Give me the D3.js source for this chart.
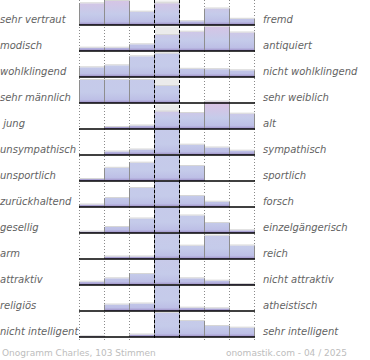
<!DOCTYPE html>
<html>
<head>
<meta charset="utf-8">
<script src="https://cdn.jsdelivr.net/npm/d3@7"></script>
<style>
body { margin: 0; background: #fff; }
svg { display: block; }
</style>
</head>
<body>
<svg width="370" height="360"></svg>
<script>

// Eigenschaftspaare, links und rechts
var links = ["sehr vertraut", "modisch", "wohlklingend", "sehr männlich", " jung",
  "unsympathisch", "unsportlich", "zurückhaltend", "gesellig", "arm",
  "attraktiv", "religiös", "nicht intelligent"];
var rechts = ["fremd", "antiquiert", "nicht wohlklingend", "sehr weiblich", "alt",
  "sympathisch", "sportlich", "forsch", "einzelgängerisch", "reich",
  "nicht attraktiv", "atheistisch", "sehr intelligent"];

var stufen = [1, 2, 3, 4, 5, 6, 7];

// Anteil der Stimmen je Stufe
var werte = [
  [21.7, 24.0, 13.3, 21.7, 3.8, 16.5, 6.2],
  [3.3, 3.3, 6.7, 16.0, 19.3, 24.5, 18.5],
  [9.7, 11.7, 20.7, 23.5, 8.2, 7.8, 6.7],
  [23.0, 23.0, 23.0, 17.0, 0, 0, 0],
  [0, 2.0, 3.5, 17.5, 16.0, 27.5, 15.3],
  [0, 3.5, 5.5, 25.0, 10.3, 7.5, 4.3],
  [2.0, 13.2, 18.3, 26.0, 15.0, 0, 0],
  [2.5, 9.0, 19.0, 26.0, 11.0, 5.3, 0],
  [1.5, 6.0, 14.5, 26.0, 17.5, 10.0, 2.7],
  [0, 2.5, 2.5, 26.0, 13.3, 23.3, 13.5],
  [3.3, 6.7, 11.0, 26.0, 6.7, 4.3, 1.0],
  [0, 6.5, 7.5, 26.0, 3.3, 2.7, 0],
  [0.7, 0, 2.5, 24.3, 16.0, 11.0, 9.3]
];

// wie stark die Balken oben ins Rosa gehen (weibliche Stimmen)
var weiblich = [0.75, 0.7, 0.05, 0.05, 0.85, 0.05, 0.05, 0.05, 0.05, 0.1, 0.1, 0.05, 0.1];

var titel = "Onogramm Charles, 103 Stimmen";
var quelle = "onomastik.com - 04 / 2025";

var svg = d3.select("svg");

var x = d3.scaleBand().domain(stufen).range([80, 255]);
var y = d3.scaleBand().domain(d3.range(links.length)).range([-1, 337]);
var h = d3.scaleLinear().domain([0, 26]).range([0, 26]);

function basis(i) { return y(i) + y.bandwidth(); }

// Verlauf je Zeile
var defs = svg.append("defs");
var blau = "#c5cbea";
links.forEach(function(d, i) {
  var g = defs.append("linearGradient")
    .attr("id", "g" + i)
    .attr("gradientUnits", "userSpaceOnUse")
    .attr("x1", 0).attr("x2", 0)
    .attr("y1", basis(i) - 27).attr("y2", basis(i));
  g.append("stop").attr("offset", 0).attr("stop-color", d3.interpolateRgb(blau, "#e0c0e2")(weiblich[i]));
  g.append("stop").attr("offset", 0.6).attr("stop-color", blau);
  g.append("stop").attr("offset", 0.88).attr("stop-color", "#bdbfe6");
  g.append("stop").attr("offset", 1).attr("stop-color", "#9a88c2");
});

// gepunktete Rasterlinien
var grenzen = stufen.map(function(s) { return x(s); }).concat([x.range()[1]]);
svg.append("g").selectAll("line")
  .data(grenzen.filter(function(d, k) { return k != 3 && k != 4; }))
  .join("line")
    .attr("x1", function(d) { return d - 0.5; })
    .attr("x2", function(d) { return d - 0.5; })
    .attr("y1", 0).attr("y2", 340)
    .attr("stroke", "#8a8a8a")
    .attr("stroke-dasharray", "1,2");

// grauer Hintergrund der Mittelspalte
svg.append("g").selectAll("rect")
  .data(d3.range(links.length))
  .join("rect")
    .attr("x", x(4))
    .attr("y", function(i) { return basis(i) - 24.5; })
    .attr("width", x.bandwidth())
    .attr("height", 24.5)
    .attr("fill", "#ebebeb");

// Balken
var zeilen = svg.append("g").selectAll("g")
  .data(werte)
  .join("g");

var balken = zeilen.selectAll("g")
  .data(function(r, i) { return r.map(function(v, k) { return {zeile: i, stufe: stufen[k], wert: v}; }); })
  .join("g")
    .filter(function(d) { return d.wert > 0; });

balken.append("rect")
  .attr("x", function(d) { return x(d.stufe); })
  .attr("y", function(d) { return basis(d.zeile) - h(d.wert); })
  .attr("width", x.bandwidth())
  .attr("height", function(d) { return h(d.wert); })
  .attr("fill", function(d) { return "url(#g" + d.zeile + ")"; });

// helle Kante oben
balken.append("line")
  .attr("x1", function(d) { return x(d.stufe); })
  .attr("x2", function(d) { return x(d.stufe) + x.bandwidth(); })
  .attr("y1", function(d) { return basis(d.zeile) - h(d.wert) - 0.5; })
  .attr("y2", function(d) { return basis(d.zeile) - h(d.wert) - 0.5; })
  .attr("stroke", "#d6d6d6");

// graue Seitenkanten
balken.append("path")
  .attr("d", function(d) {
    var l = x(d.stufe) - 0.5, r = x(d.stufe) + x.bandwidth() - 0.5,
        t = basis(d.zeile) - h(d.wert), b = basis(d.zeile);
    return "M" + l + "," + t + "V" + b + "M" + r + "," + t + "V" + b;
  })
  .attr("stroke", "#8e8e8e")
  .attr("fill", "none");

// Grundlinien
svg.append("g").selectAll("line")
  .data(d3.range(links.length))
  .join("line")
    .attr("x1", x.range()[0] - 1)
    .attr("x2", x.range()[1])
    .attr("y1", function(i) { return basis(i); })
    .attr("y2", function(i) { return basis(i); })
    .attr("stroke", "#000")
    .attr("stroke-width", 1.6);

// gestrichelte Mittellinien
svg.append("g").selectAll("line")
  .data([x(4), x(5)])
  .join("line")
    .attr("x1", function(d) { return d - 0.5; })
    .attr("x2", function(d) { return d - 0.5; })
    .attr("y1", 0).attr("y2", 340)
    .attr("stroke", "#000")
    .attr("stroke-dasharray", "3,2");

// Beschriftung
var schrift = svg.append("g")
  .attr("font-family", "'DejaVu Sans', Verdana, sans-serif")
  .attr("font-size", 10)
  .attr("font-style", "italic")
  .attr("fill", "#636363");

schrift.selectAll(".l")
  .data(links)
  .join("text")
    .attr("class", "l")
    .attr("xml:space", "preserve")
    .attr("x", 0)
    .attr("y", function(d, i) { return basis(i) - 2; })
    .text(function(d) { return d.replace(/^ /, "\u00a0"); });

schrift.selectAll(".r")
  .data(rechts)
  .join("text")
    .attr("class", "r")
    .attr("x", 263)
    .attr("y", function(d, i) { return basis(i) - 2; })
    .text(function(d) { return d; });

var fuss = svg.append("g")
  .attr("font-family", "'DejaVu Sans', Verdana, sans-serif")
  .attr("font-size", 9)
  .attr("fill", "#bdbdbd");

fuss.append("text").attr("x", 2).attr("y", 356).text(titel);
fuss.append("text").attr("x", 347).attr("y", 356).attr("text-anchor", "end").text(quelle);

</script>
</body>
</html>
